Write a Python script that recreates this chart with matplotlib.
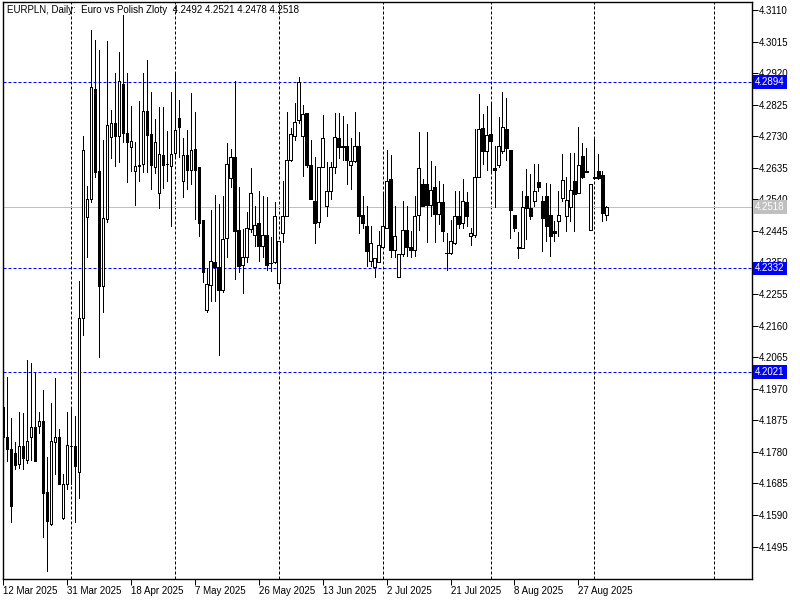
import numpy as np
import matplotlib.pyplot as plt

plt.rcParams['font.family'] = ['Liberation Sans', 'DejaVu Sans']

# EURPLN daily candles, 12 Mar 2025 .. 4 Sep 2025 (6 bars per week)
opens = [4.1916, 4.1826, 4.1790, 4.1778, 4.1742, 4.1799, 4.1757, 4.1826, 4.1856, 4.1859,
         4.1874, 4.1658, 4.1562, 4.1811, 4.1826, 4.1580, 4.1682, 4.1799, 4.1799, 4.1718,
         4.2183, 4.2486, 4.2540, 4.2873, 4.2624, 4.2279, 4.2480, 4.2729, 4.2771, 4.2732,
         4.2888, 4.2741, 4.2699, 4.2624, 4.2639, 4.2645, 4.2807, 4.2738, 4.2636, 4.2558,
         4.2675, 4.2645, 4.2639, 4.2681, 4.2786, 4.2594, 4.2675, 4.2627, 4.2693, 4.2636,
         4.2477, 4.2207, 4.2282, 4.2351, 4.2336, 4.2267, 4.2423, 4.2603, 4.2669, 4.2447,
         4.2342, 4.2366, 4.2450, 4.2432, 4.2468, 4.2399, 4.2432, 4.2348, 4.2351, 4.2288,
         4.2438, 4.2489, 4.2660, 4.2732, 4.2780, 4.2732, 4.2801, 4.2642, 4.2534, 4.2471,
         4.2636, 4.2519, 4.2564, 4.2636, 4.2726, 4.2699, 4.2702, 4.2642, 4.2657, 4.2702,
         4.2492, 4.2459, 4.2354, 4.2336, 4.2351, 4.2396, 4.2453, 4.2600, 4.2387, 4.2306,
         4.2375, 4.2447, 4.2396, 4.2387, 4.2492, 4.2585, 4.2585, 4.2522, 4.2576, 4.2495,
         4.2531, 4.2378, 4.2378, 4.2408, 4.2489, 4.2468, 4.2531, 4.2429, 4.2432, 4.2606,
         4.2756, 4.2687, 4.2738, 4.2633, 4.2642, 4.2687, 4.2753, 4.2690, 4.2492, 4.2396,
         4.2393, 4.2549, 4.2513, 4.2534, 4.2591, 4.2534, 4.2549, 4.2492, 4.2444, 4.2474,
         4.2543, 4.2489, 4.2516, 4.2594, 4.2558, 4.2672, 4.2624, 4.2447, 4.2603, 4.2624,
         4.2612, 4.2492]
highs = [4.1925, 4.2006, 4.1883, 4.1811, 4.1901, 4.1898, 4.2057, 4.2048, 4.2021, 4.1901,
         4.1967, 4.1766, 4.1928, 4.2003, 4.1850, 4.1712, 4.1901, 4.1910, 4.1889, 4.2294,
         4.2732, 4.2579, 4.3050, 4.3020, 4.2990, 4.2720, 4.3017, 4.2810, 4.2921, 4.2984,
         4.3095, 4.2921, 4.2822, 4.2714, 4.2837, 4.2921, 4.2960, 4.2864, 4.2783, 4.2819,
         4.2819, 4.2747, 4.2864, 4.2921, 4.2840, 4.2726, 4.2750, 4.2861, 4.2804, 4.2636,
         4.2477, 4.2333, 4.2507, 4.2552, 4.2525, 4.2549, 4.2711, 4.2693, 4.2897, 4.2576,
         4.2450, 4.2501, 4.2633, 4.2519, 4.2564, 4.2549, 4.2546, 4.2426, 4.2531, 4.2414,
         4.2594, 4.2804, 4.2756, 4.2831, 4.2909, 4.2825, 4.2801, 4.2720, 4.2669, 4.2636,
         4.2795, 4.2651, 4.2651, 4.2801, 4.2801, 4.2792, 4.2768, 4.2726, 4.2804, 4.2744,
         4.2549, 4.2519, 4.2459, 4.2363, 4.2444, 4.2558, 4.2690, 4.2675, 4.2519, 4.2375,
         4.2534, 4.2519, 4.2444, 4.2549, 4.2744, 4.2600, 4.2744, 4.2654, 4.2639, 4.2594,
         4.2585, 4.2438, 4.2477, 4.2564, 4.2564, 4.2600, 4.2561, 4.2453, 4.2753, 4.2858,
         4.2798, 4.2822, 4.2828, 4.2702, 4.2789, 4.2864, 4.2846, 4.2690, 4.2492, 4.2441,
         4.2564, 4.2630, 4.2615, 4.2645, 4.2645, 4.2549, 4.2588, 4.2585, 4.2474, 4.2564,
         4.2678, 4.2606, 4.2681, 4.2681, 4.2759, 4.2711, 4.2696, 4.2585, 4.2726, 4.2678,
         4.2624, 4.2521]
lows = [4.1820, 4.1751, 4.1568, 4.1727, 4.1730, 4.1727, 4.1745, 4.1754, 4.1751, 4.1838,
        4.1523, 4.1421, 4.1559, 4.1712, 4.1682, 4.1577, 4.1667, 4.1682, 4.1568, 4.1640,
        4.2132, 4.2366, 4.2531, 4.2606, 4.2066, 4.2201, 4.2471, 4.2666, 4.2639, 4.2651,
        4.2714, 4.2591, 4.2624, 4.2522, 4.2594, 4.2621, 4.2621, 4.2570, 4.2618, 4.2513,
        4.2573, 4.2594, 4.2459, 4.2669, 4.2669, 4.2546, 4.2570, 4.2585, 4.2480, 4.2429,
        4.2291, 4.2201, 4.2234, 4.2234, 4.2072, 4.2261, 4.2366, 4.2576, 4.2300, 4.2321,
        4.2258, 4.2351, 4.2441, 4.2399, 4.2354, 4.2366, 4.2327, 4.2324, 4.2348, 4.2279,
        4.2411, 4.2489, 4.2654, 4.2720, 4.2771, 4.2609, 4.2636, 4.2540, 4.2408, 4.2456,
        4.2636, 4.2489, 4.2540, 4.2618, 4.2666, 4.2660, 4.2585, 4.2570, 4.2651, 4.2438,
        4.2453, 4.2339, 4.2339, 4.2306, 4.2351, 4.2396, 4.2453, 4.2366, 4.2366, 4.2306,
        4.2369, 4.2369, 4.2366, 4.2369, 4.2447, 4.2519, 4.2411, 4.2489, 4.2411, 4.2465,
        4.2414, 4.2327, 4.2375, 4.2405, 4.2453, 4.2453, 4.2459, 4.2402, 4.2426, 4.2606,
        4.2645, 4.2627, 4.2624, 4.2516, 4.2636, 4.2681, 4.2660, 4.2423, 4.2444, 4.2363,
        4.2393, 4.2420, 4.2480, 4.2519, 4.2564, 4.2384, 4.2414, 4.2369, 4.2414, 4.2429,
        4.2534, 4.2444, 4.2474, 4.2444, 4.2558, 4.2603, 4.2621, 4.2447, 4.2600, 4.2600,
        4.2474, 4.2478]
closes = [4.1826, 4.1790, 4.1616, 4.1739, 4.1799, 4.1763, 4.1814, 4.1856, 4.1751, 4.1874,
          4.1655, 4.1571, 4.1814, 4.1826, 4.1682, 4.1682, 4.1802, 4.1799, 4.1736, 4.2183,
          4.2690, 4.2540, 4.2879, 4.2621, 4.2279, 4.2483, 4.2765, 4.2771, 4.2732, 4.2897,
          4.2741, 4.2714, 4.2717, 4.2639, 4.2642, 4.2807, 4.2735, 4.2642, 4.2714, 4.2678,
          4.2642, 4.2645, 4.2678, 4.2750, 4.2759, 4.2675, 4.2627, 4.2690, 4.2627, 4.2468,
          4.2321, 4.2285, 4.2354, 4.2336, 4.2267, 4.2420, 4.2645, 4.2669, 4.2444, 4.2339,
          4.2366, 4.2453, 4.2558, 4.2462, 4.2399, 4.2432, 4.2342, 4.2348, 4.2489, 4.2414,
          4.2489, 4.2660, 4.2738, 4.2774, 4.2894, 4.2798, 4.2642, 4.2540, 4.2468, 4.2636,
          4.2726, 4.2564, 4.2636, 4.2729, 4.2699, 4.2702, 4.2660, 4.2654, 4.2702, 4.2489,
          4.2468, 4.2384, 4.2408, 4.2363, 4.2402, 4.2459, 4.2594, 4.2387, 4.2429, 4.2375,
          4.2447, 4.2396, 4.2387, 4.2489, 4.2633, 4.2519, 4.2522, 4.2567, 4.2495, 4.2531,
          4.2444, 4.2378, 4.2414, 4.2489, 4.2465, 4.2534, 4.2489, 4.2438, 4.2606, 4.2753,
          4.2687, 4.2735, 4.2717, 4.2627, 4.2702, 4.2759, 4.2696, 4.2507, 4.2453, 4.2393,
          4.2516, 4.2513, 4.2489, 4.2564, 4.2576, 4.2483, 4.2459, 4.2429, 4.2438, 4.2492,
          4.2597, 4.2537, 4.2567, 4.2555, 4.2642, 4.2606, 4.2621, 4.2585, 4.2606, 4.2603,
          4.2498, 4.2518]

date_ticks = [0, 16, 32, 48, 64, 80, 96, 112, 128, 144]
date_labels = ['12 Mar 2025', '31 Mar 2025', '18 Apr 2025', '7 May 2025', '26 May 2025',
               '13 Jun 2025', '2 Jul 2025', '21 Jul 2025', '8 Aug 2025', '27 Aug 2025']
grid_bars = [17, 43, 69, 95, 122, 148, 178]
price_ticks = [4.1495, 4.1590, 4.1685, 4.1780, 4.1875, 4.1970, 4.2065, 4.2160, 4.2255,
               4.2350, 4.2445, 4.2540, 4.2635, 4.2730, 4.2825, 4.2920, 4.3015, 4.3110]
levels = [4.2894, 4.2332, 4.2021]
bid = 4.2518
title = 'EURPLN, Daily:  Euro vs Polish Zloty  4.2492 4.2521 4.2478 4.2518'

o = np.array(opens)
h = np.array(highs)
l = np.array(lows)
c = np.array(closes)
x = np.arange(len(o))
up = c >= o

fig = plt.figure(figsize=(8, 6), dpi=100)
ax = fig.add_axes([2.5 / 800, 21 / 600, 749.8 / 800, 576.7 / 600])

px = 0.72  # one pixel in points

# grid and levels behind the candles
for g in grid_bars:
    ax.axvline(g, color='black', lw=px, ls=(0, (3, 2)), zorder=1)
for lv in levels:
    ax.axhline(lv, color='#0000ff', lw=px, ls=(0, (3, 2)), zorder=1)
ax.axhline(bid, color='#c0c0c0', lw=px, zorder=1)

# candles
ax.vlines(x, l, h, color='black', lw=px, zorder=2, antialiased=False)
ax.bar(x, np.abs(c - o), bottom=np.minimum(o, c), width=0.62,
       color=np.where(up, 'white', 'black'), edgecolor='black', lw=px,
       zorder=3, antialiased=False)

ax.set_xlim(-0.1, 187.5)
ax.set_ylim(4.13973, 4.31332)

ax.yaxis.tick_right()
ax.set_yticks(price_ticks)
ax.set_yticklabels(['%.4f' % p for p in price_ticks])
ax.set_xticks(date_ticks)
ax.set_xticklabels(date_labels)
for t in ax.get_xticklabels():
    t.set_ha('left')
ax.tick_params(axis='both', direction='out', length=4, width=px, labelsize=7,
               colors='black', pad=1)

for s in ax.spines.values():
    s.set_linewidth(1)
    s.set_color('black')

ax.text(0.0056, 0.996, title, transform=ax.transAxes, ha='left', va='top', fontsize=7)

# price labels on the right scale
tr = ax.get_yaxis_transform()
for lv in levels:
    ax.text(1.0037, lv, '%.4f' % lv, transform=tr, ha='left', va='center', fontsize=7,
            color='white', clip_on=False, zorder=6,
            bbox=dict(boxstyle='square,pad=0.2', fc='#0000ff', ec='none'))
ax.text(1.0037, bid, '%.4f' % bid, transform=tr, ha='left', va='center', fontsize=7,
        color='white', clip_on=False, zorder=6,
        bbox=dict(boxstyle='square,pad=0.2', fc='#c0c0c0', ec='none'))

fig.savefig('out.png', dpi=100)
